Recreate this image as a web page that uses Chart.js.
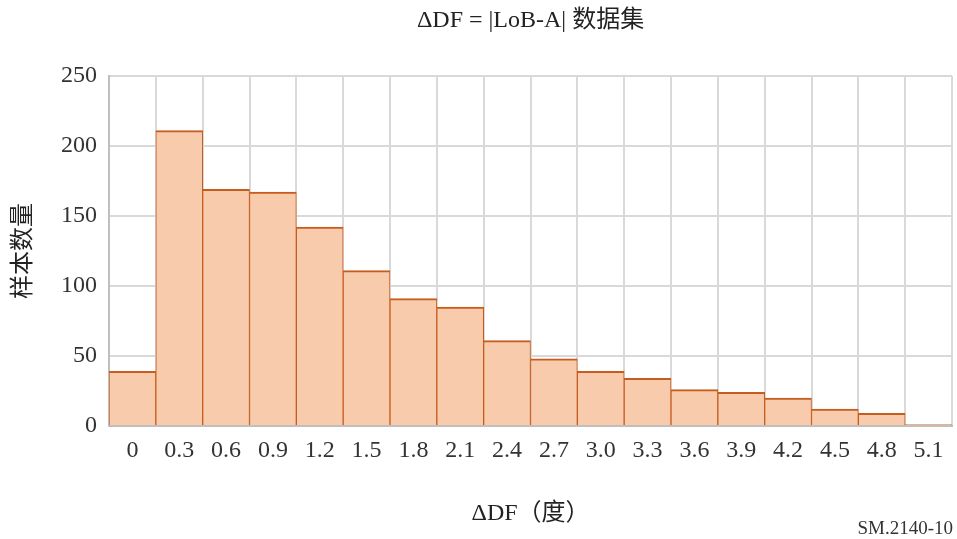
<!DOCTYPE html>
<html>
<head>
<meta charset="utf-8">
<script src="https://cdn.jsdelivr.net/npm/chart.js@4"></script>
<style>
  body { margin: 0; background: #fff; }
  #wrap { position: relative; width: 957px; height: 539px; }
  #note { position: absolute; right: 4px; bottom: 0px; font: 19px "Liberation Serif", serif; color: #333; }
</style>
</head>
<body>
<div id="wrap">
  <canvas id="histChart" width="957" height="539"></canvas>
  <div id="note">SM.2140-10</div>
</div>
<script>
var labels = ['0', '0.3', '0.6', '0.9', '1.2', '1.5', '1.8', '2.1', '2.4', '2.7', '3.0', '3.3', '3.6', '3.9', '4.2', '4.5', '4.8', '5.1'];
var counts = [39, 211, 169, 167, 142, 111, 91, 85, 61, 48, 39, 34, 26, 24, 20, 12, 9, 1];
var chartTitle = 'ΔDF = |LoB-A| 数据集';
var xTitle = 'ΔDF（度）';
var yTitle = '样本数量';

var serif = '"Liberation Serif", "Noto Sans CJK SC", serif';

// title centred over the plot area, not the canvas
var topTitle = {
  id: 'topTitle',
  afterDraw: function (c) {
    var ctx = c.ctx, a = c.chartArea;
    ctx.save();
    ctx.font = '24px ' + serif;
    ctx.fillStyle = '#222';
    ctx.textAlign = 'center';
    ctx.textBaseline = 'middle';
    ctx.fillText(chartTitle, (a.left + a.right) / 2, 21);
    ctx.restore();
  }
};

var chart = document.getElementById('histChart');

new Chart(chart, {
  type: 'bar',
  data: {
    labels: labels,
    datasets: [{
      data: counts,
      backgroundColor: '#f8cbad',
      borderColor: '#c65d1e',
      borderWidth: { top: 2, left: 1, right: 1, bottom: 0 },
      barPercentage: 1,
      categoryPercentage: 1
    }]
  },
  options: {
    responsive: false,
    animation: false,
    layout: { padding: { top: 76, right: 5, left: 0, bottom: 0 } },
    plugins: {
      legend: { display: false },
      tooltip: { enabled: false }
    },
    scales: {
      x: {
        offset: true,
        grid: { offset: true, color: '#d9d9d9', lineWidth: 2, drawTicks: false },
        border: { color: '#bfbfbf', width: 2 },
        ticks: { font: { family: serif, size: 24 }, color: '#333', padding: 10, maxRotation: 0, autoSkip: false },
        title: { display: true, text: xTitle, font: { family: serif, size: 24 }, color: '#222', padding: { top: 22, bottom: 11 } },
        afterFit: function (s) { s.height = 113; }
      },
      y: {
        min: 0,
        max: 250,
        ticks: { stepSize: 50, font: { family: serif, size: 24 }, color: '#333', padding: 12 },
        grid: { color: '#d9d9d9', lineWidth: 2, drawTicks: false },
        border: { color: '#bfbfbf', width: 2 },
        title: { display: true, text: yTitle, font: { family: serif, size: 24 }, color: '#222', padding: { top: 9, bottom: 4 } },
        afterFit: function (s) { s.width = 109; }
      }
    }
  },
  plugins: [topTitle]
});
</script>
</body>
</html>
